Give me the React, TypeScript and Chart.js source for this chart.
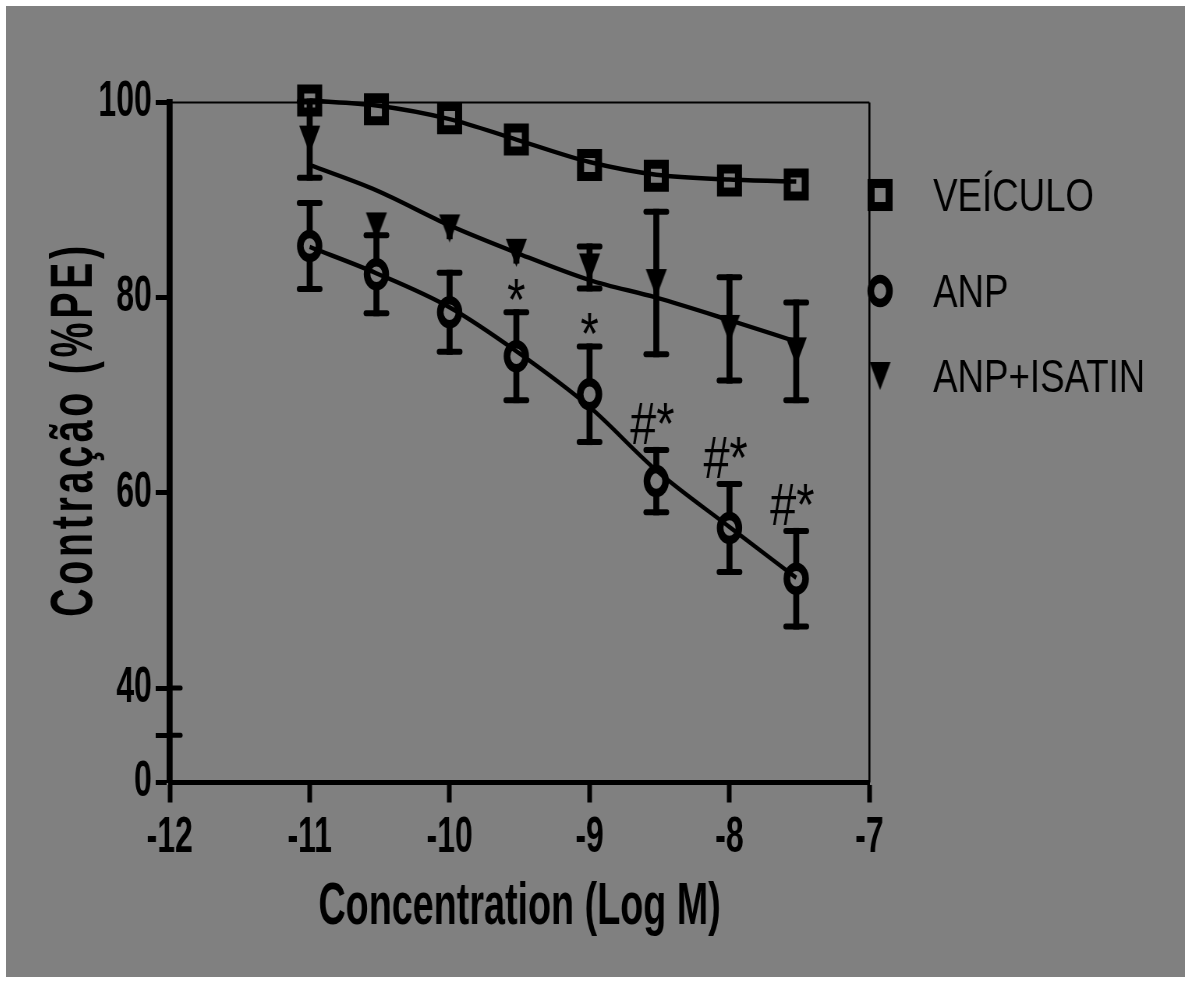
import React, { useEffect, useRef } from 'react';
import { Chart, registerables, LinearScale } from 'chart.js';

// ---------------- data ----------------
const LOG_CONC = [-11, -10.523, -10, -9.523, -9, -8.523, -8, -7.523];
const SERIES_LABELS = ['VEÍCULO', 'ANP', 'ANP+ISATIN'];

const VEICULO_MEAN = [100.2, 99.3, 98.4, 96.2, 93.6, 92.5, 92.0, 91.6];

const ANP_MEAN = [85.3, 82.4, 78.5, 74.0, 70.1, 61.2, 56.4, 51.2];
const ANP_SEM = [4.4, 4.0, 4.05, 4.5, 4.9, 3.2, 4.5, 4.9];

const ISATIN_MEAN = [96.2, 87.3, 87.1, 84.6, 83.1, 81.5, 76.8, 74.5];
const ISATIN_SEM = [3.9, 0.8, 0.8, 0.8, 2.15, 7.3, 5.3, 5.0];

// fitted curves at the same concentrations
const VEICULO_FIT = [100.2, 99.7, 98.3, 96.2, 93.9, 92.6, 92.1, 91.9];
const ANP_FIT = [85.2, 82.5, 79.0, 74.5, 68.8, 62.3, 56.5, 51.3];
const ISATIN_FIT = [93.6, 91.0, 87.4, 84.6, 81.8, 80.0, 77.7, 75.5];

const ANP_MARKS = ['', '', '', '*', '*', '#*', '#*', '#*'];

const X_MIN = -12;
const X_MAX = -7;
const X_STEP = 1;
const Y_TICK_VALUES = [0, 20, 40, 60, 80, 100];
const Y_TICK_LABELS = ['0', '', '40', '60', '80', '100'];
const Y_BREAK_MARKS = [20, 40];
const X_TITLE = 'Concentration (Log M)';
const Y_TITLE = 'Contração (%PE)';

// ---------------- layout / style ----------------
const CANVAS_W = 1512;
const CANVAS_H = 971;
const CSS_W = 1179;
const PLOT_LEFT = 210;
const PLOT_RIGHT = 1107.3;
const PLOT_TOP = 96.5;
const PLOT_BOTTOM = 776.5;
const Y_BREAK = 40;
const Y_BREAK_FRAC = 94.5 / 680;

const SANS = "'Liberation Sans', Arial, sans-serif";
const NARROW_FACTOR = 0.82; // axis text is a narrow face
const INK = '#000000';
const BG = '#808080';

const Y_TITLE_SIZE = 48;
const Y_TITLE_PAD = 60;
const Y_TITLE_STRETCH = 1.6;
const Y_TITLE_SHIFT = -13;
const Y_TITLE_SPACING = '4.5px';

const TRI_W = 27;
const TRI_H = 28;

Chart.register(...registerables);

// draw text horizontally condensed about its anchor point
function withCondensedText(ctx: any, k: number, fn: () => void) {
  const orig = CanvasRenderingContext2D.prototype.fillText;
  ctx.fillText = function (text: string, x: number, y: number) {
    this.save();
    this.translate(x, y);
    this.scale(k, 1);
    orig.call(this, text, 0, 0);
    this.restore();
  };
  try {
    fn();
  } finally {
    delete ctx.fillText;
  }
}

class CondensedLinearScale extends (LinearScale as any) {
  static id = 'condensedLinear';
  static defaults = (LinearScale as any).defaults;

  drawLabels(area: any) {
    withCondensedText(this.ctx, NARROW_FACTOR, () => super.drawLabels(area));
  }

  drawTitle() {
    withCondensedText(this.ctx, NARROW_FACTOR, () => super.drawTitle());
  }
}

class BrokenLinearScale extends CondensedLinearScale {
  static id = 'brokenLinear';
  static defaults = (LinearScale as any).defaults;

  getPixelForValue(value: number) {
    if (value === null || value === undefined || isNaN(value)) return NaN;
    const lo = this.min;
    const hi = this.max;
    let dec;
    if (value >= Y_BREAK) {
      dec = Y_BREAK_FRAC + ((value - Y_BREAK) / (hi - Y_BREAK)) * (1 - Y_BREAK_FRAC);
    } else {
      dec = ((value - lo) / (Y_BREAK - lo)) * Y_BREAK_FRAC;
    }
    return this.getPixelForDecimal(dec);
  }

  getValueForPixel(pixel: number) {
    const dec = this.getDecimalForPixel(pixel);
    if (dec >= Y_BREAK_FRAC) {
      return Y_BREAK + ((dec - Y_BREAK_FRAC) / (1 - Y_BREAK_FRAC)) * (this.max - Y_BREAK);
    }
    return this.min + (dec / Y_BREAK_FRAC) * (Y_BREAK - this.min);
  }

  drawTitle() {
    const ctx = this.ctx;
    const cx = this.left + Y_TITLE_PAD + (Y_TITLE_SIZE * 1.2) / 2;
    const cy = (this.top + this.bottom) / 2;
    ctx.save();
    ctx.translate(cx, cy + Y_TITLE_SHIFT);
    ctx.scale(Y_TITLE_STRETCH, 1);
    ctx.translate(-cx, -cy);
    ctx.letterSpacing = Y_TITLE_SPACING;
    super.drawTitle();
    ctx.restore();
  }
}
Chart.register(CondensedLinearScale as any, BrokenLinearScale as any);

function line(ctx: CanvasRenderingContext2D, x1: number, y1: number, x2: number, y2: number) {
  ctx.beginPath();
  ctx.moveTo(x1, y1);
  ctx.lineTo(x2, y2);
  ctx.stroke();
}

function makeTriangle(): HTMLCanvasElement {
  const c = document.createElement('canvas');
  c.width = TRI_W + 2;
  c.height = TRI_H + 2;
  const g = c.getContext('2d')!;
  g.fillStyle = INK;
  g.beginPath();
  g.moveTo(1, 1);
  g.lineTo(TRI_W + 1, 1);
  g.lineTo(TRI_W / 2 + 1, TRI_H + 1);
  g.closePath();
  g.fill();
  return c;
}

function drawMarker(ctx: CanvasRenderingContext2D, ds: any, x: number, y: number) {
  const style = ds.pointStyle;
  if (style && typeof style === 'object') {
    ctx.drawImage(style, x - style.width / 2, y - style.height / 2);
    return;
  }
  ctx.lineWidth = ds.pointBorderWidth;
  ctx.strokeStyle = INK;
  if (style === 'rect') {
    const h = Math.SQRT1_2 * ds.pointRadius;
    ctx.strokeRect(x - h, y - h, 2 * h, 2 * h);
  } else {
    ctx.beginPath();
    ctx.arc(x, y, ds.pointRadius, 0, Math.PI * 2);
    ctx.stroke();
  }
}

const overlayPlugin = {
  id: 'overlay',
  beforeDatasetsDraw(chart: any) {
    const { ctx, chartArea: a } = chart;
    const xs = chart.scales.x;
    const ys = chart.scales.y;
    ctx.save();
    ctx.strokeStyle = INK;
    // thin frame on top and right
    ctx.lineWidth = 2;
    line(ctx, a.left, a.top, a.right, a.top);
    ctx.lineWidth = 2.6;
    line(ctx, a.right, a.top, a.right, a.bottom);
    // axis break marks
    ctx.lineWidth = 5;
    ctx.lineCap = 'round';
    Y_BREAK_MARKS.forEach((v) => {
      const py = ys.getPixelForValue(v);
      line(ctx, a.left, py, a.left + 14, py);
    });
    // error bars
    chart.data.datasets.forEach((ds: any) => {
      if (!ds.errors) return;
      ds.data.forEach((p: any, i: number) => {
        const e = ds.errors[i];
        const px = xs.getPixelForValue(p.x);
        const yc = ys.getPixelForValue(p.y);
        const yt = ys.getPixelForValue(p.y + e);
        const yb = ys.getPixelForValue(p.y - e);
        const gap = ds.errorGap || 0;
        const hide = ds.errorHide || 0;
        ctx.lineCap = 'butt';
        ctx.lineWidth = 7.7;
        if (yc - gap > yt) line(ctx, px, yt - 3, px, yc - gap);
        if (yc + gap < yb) line(ctx, px, yc + gap, px, yb + 3);
        ctx.lineCap = 'round';
        ctx.lineWidth = 6;
        if (yc - yt > hide) line(ctx, px - 13.5, yt, px + 13.5, yt);
        if (yb - yc > hide) line(ctx, px - 13.5, yb, px + 13.5, yb);
      });
    });
    ctx.restore();
  },
  afterDatasetsDraw(chart: any) {
    const { ctx } = chart;
    const xs = chart.scales.x;
    const ys = chart.scales.y;
    ctx.save();
    ctx.fillStyle = INK;
    // significance marks above the upper error bars
    chart.data.datasets.forEach((ds: any) => {
      if (!ds.marks) return;
      ds.marks.forEach((m: string, i: number) => {
        if (!m) return;
        const p = ds.data[i];
        const px = xs.getPixelForValue(p.x);
        const yt = ys.getPixelForValue(p.y + ds.errors[i]);
        ctx.font = `60px ${SANS}`;
        ctx.textAlign = 'center';
        ctx.textBaseline = 'alphabetic';
        const hasHash = m.indexOf('#') >= 0;
        ctx.fillText(m, px - (hasHash ? 5 : 0), yt + (hasHash ? -6 : 8));
      });
    });
    // legend
    const rows = [189, 285, 370];
    const markerX = 1121;
    const textX = 1189;
    chart.data.datasets.slice(0, 3).forEach((ds: any, i: number) => {
      drawMarker(ctx, ds, markerX, rows[i]);
      ctx.fillStyle = INK;
      ctx.font = `47px ${SANS}`;
      ctx.textAlign = 'left';
      ctx.textBaseline = 'middle';
      ctx.fillText(ds.label, textX, rows[i] + 3);
    });
    ctx.restore();
  },
};

function pts(values: number[]) {
  return values.map((v, i) => ({ x: LOG_CONC[i], y: v }));
}

export default function App() {
  const ref = useRef<HTMLCanvasElement>(null);

  useEffect(() => {
    const canvas = ref.current;
    if (!canvas) return;
    const triangle = makeTriangle();
    const fitStyle = {
      showLine: true,
      borderColor: INK,
      borderWidth: 4.5,
      pointRadius: 0,
      cubicInterpolationMode: 'monotone',
      clip: false,
    };
    const chart = new Chart(canvas, {
      type: 'line',
      data: {
        datasets: [
          {
            label: SERIES_LABELS[0],
            data: pts(VEICULO_MEAN),
            showLine: false,
            pointStyle: 'rect',
            pointRadius: 16.3,
            pointBorderWidth: 9,
            pointBorderColor: INK,
            pointBackgroundColor: 'rgba(0,0,0,0)',
            clip: false,
          },
          {
            label: SERIES_LABELS[1],
            data: pts(ANP_MEAN),
            showLine: false,
            pointStyle: 'circle',
            pointRadius: 12,
            pointBorderWidth: 8.5,
            pointBorderColor: INK,
            pointBackgroundColor: 'rgba(0,0,0,0)',
            clip: false,
            errors: ANP_SEM,
            errorGap: 15,
            errorHide: 15,
            marks: ANP_MARKS,
          },
          {
            label: SERIES_LABELS[2],
            data: pts(ISATIN_MEAN),
            showLine: false,
            pointStyle: triangle,
            pointRadius: 14,
            clip: false,
            errors: ISATIN_SEM,
            errorGap: 0,
            errorHide: 14,
          },
          { label: SERIES_LABELS[0] + ' fit', data: pts(VEICULO_FIT), ...fitStyle },
          { label: SERIES_LABELS[1] + ' fit', data: pts(ANP_FIT), ...fitStyle },
          { label: SERIES_LABELS[2] + ' fit', data: pts(ISATIN_FIT), ...fitStyle },
        ] as any,
      },
      options: {
        responsive: false,
        animation: false,
        devicePixelRatio: 1,
        events: [],
        layout: {
          padding: { left: 0, right: CANVAS_W - PLOT_RIGHT, top: PLOT_TOP, bottom: 0 },
        },
        plugins: { legend: { display: false }, tooltip: { enabled: false } },
        scales: {
          x: {
            type: 'condensedLinear',
            position: 'bottom',
            min: X_MIN,
            max: X_MAX,
            ticks: {
              stepSize: X_STEP,
              autoSkip: false,
              maxRotation: 0,
              padding: 6,
              color: INK,
              font: { family: SANS, size: 50, weight: 'bold' },
            },
            grid: { drawOnChartArea: false, drawTicks: true, tickLength: 20, tickWidth: 6, tickColor: INK },
            border: { display: true, width: 5, color: INK },
            title: {
              display: true,
              text: X_TITLE,
              color: INK,
              font: { family: SANS, size: 59, weight: 'bold' },
              padding: { top: 0, bottom: 33.6 },
            },
            afterFit: (s: any) => {
              s.height = CANVAS_H - PLOT_BOTTOM;
            },
          },
          y: {
            type: 'brokenLinear',
            position: 'left',
            min: 0,
            max: 100,
            afterBuildTicks: (s: any) => {
              s.ticks = Y_TICK_VALUES.map((value) => ({ value }));
            },
            ticks: {
              autoSkip: false,
              padding: 5,
              color: INK,
              font: { family: SANS, size: 50, weight: 'bold' },
              callback: (_v: any, i: number) => Y_TICK_LABELS[i],
            },
            grid: { drawOnChartArea: false, drawTicks: true, tickLength: 18, tickWidth: 5, tickColor: INK },
            border: { display: true, width: 7.7, color: INK },
            title: {
              display: true,
              text: Y_TITLE,
              color: INK,
              font: { family: SANS, size: Y_TITLE_SIZE, weight: 'bold' },
              padding: { top: Y_TITLE_PAD, bottom: 0 },
            },
            afterFit: (s: any) => {
              s.width = PLOT_LEFT;
            },
          } as any,
        },
      } as any,
      plugins: [overlayPlugin],
    });
    return () => chart.destroy();
  }, []);

  return (
    <div style={{ position: 'absolute', left: 0, top: 0, width: 1185, height: 984, background: '#ffffff' }}>
      <canvas
        ref={ref}
        width={CANVAS_W}
        height={CANVAS_H}
        style={{ position: 'absolute', left: 6, top: 6, width: CSS_W + 'px', height: CANVAS_H + 'px', background: BG }}
      />
    </div>
  );
}
